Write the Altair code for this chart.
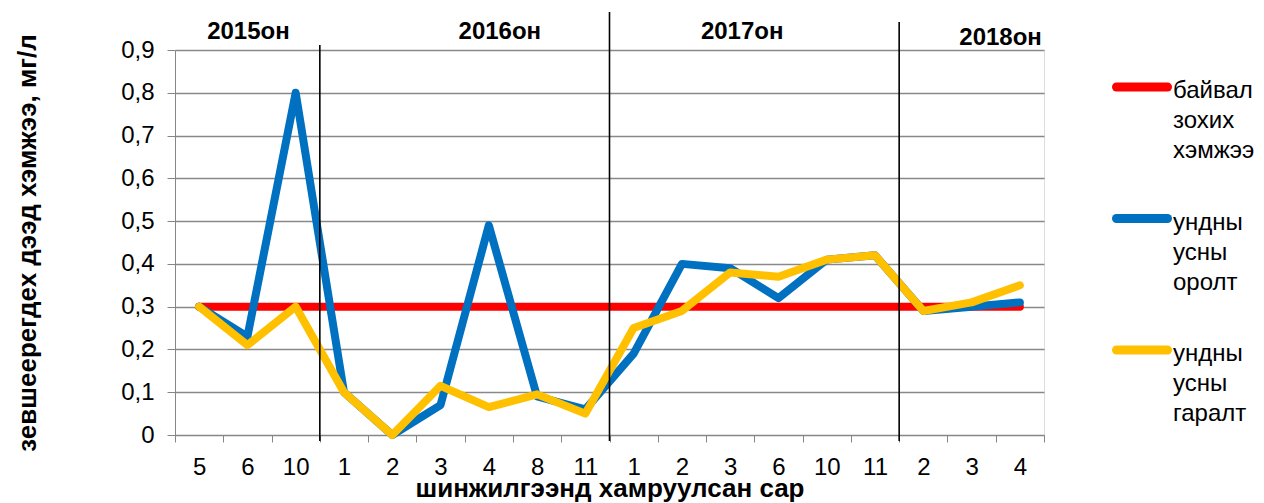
import altair as alt
import pandas as pd

# ---- data ----
years = ["2015"] * 3 + ["2016"] * 6 + ["2017"] * 6 + ["2018"] * 3
months = ["5", "6", "10", "1", "2", "3", "4", "8", "11",
          "1", "2", "3", "6", "10", "11", "2", "3", "4"]
norm = [0.3] * 18
inflow = [0.30, 0.23, 0.80, 0.10, 0.00, 0.07, 0.49, 0.09, 0.06,
          0.19, 0.40, 0.39, 0.32, 0.41, 0.42, 0.29, 0.30, 0.31]
outflow = [0.30, 0.21, 0.30, 0.10, 0.00, 0.115, 0.065, 0.095, 0.05,
           0.25, 0.29, 0.38, 0.37, 0.41, 0.42, 0.29, 0.31, 0.35]

series_names = ["байвал зохих хэмжээ", "ундны усны оролт", "ундны усны гаралт"]
series_colors = ["#FF0000", "#0070C0", "#FFC000"]

year_labels = ["2015он", "2016он", "2017он", "2018он"]
year_anchor = ["2015-6", "2016-4", "2017-3", "2018-3"]
year_dx = [1, 11, 12, 29]
year_dy = [-18, -18, -18, -12]

boundary_keys = ["2016-1", "2017-1", "2018-2"]
boundary_top = [-5, -38, -28]

y_title = "зевшеерегдех дээд хэмжээ, мг/л"
x_title = "шинжилгээнд хамруулсан сар"

# ---- tables ----
keys = [f"{y}-{m}" for y, m in zip(years, months)]
rows = []
for name, vals in zip(series_names, [norm, inflow, outflow]):
    for k, v in zip(keys, vals):
        rows.append({"key": k, "series": name, "value": v})
df = pd.DataFrame(rows)

FONT = "Liberation Sans"
W, H = 869, 385

xscale = alt.Scale(type="band", domain=keys, paddingInner=0, paddingOuter=0)
yscale = alt.Scale(domain=[0, 0.9], nice=False, zero=True)
cscale = alt.Scale(domain=series_names, range=series_colors)

x_axis = alt.Axis(
    title=x_title, labelExpr="split(datum.value, '-')[1]", labelAngle=0,
    tickBand="extent", grid=False, tickSize=7, tickColor="#868686",
    domainColor="#868686", labelFontSize=24, labelFont=FONT, labelColor="#000000",
    labelPadding=13, labelBaseline="top",
    titleFont=FONT, titleFontSize=26, titleFontWeight="bold", titleColor="#000000",
    titlePadding=-4,
)
y_axis = alt.Axis(
    title=y_title, values=[round(i * 0.1, 1) for i in range(10)],
    labelExpr="datum.value == 0 ? '0' : replace(format(datum.value, '.1f'), '.', ',')",
    grid=True, gridColor="#898989", gridWidth=1.3, tickSize=8, tickColor="#868686",
    domainColor="#868686", labelFontSize=24, labelFont=FONT, labelColor="#000000",
    labelPadding=13, titleFont=FONT, titleFontSize=26, titleFontWeight="bold",
    titleColor="#000000", titlePadding=80,
)

color = alt.Color("series:N", scale=cscale, legend=None)

base = alt.Chart(df)
layers = []
for name in series_names:
    layers.append(
        base.transform_filter(alt.datum.series == name)
        .mark_line(strokeWidth=8, strokeJoin="round", strokeCap="round")
        .encode(
            x=alt.X("key:N", scale=xscale, axis=x_axis, bandPosition=0.5, sort=keys),
            y=alt.Y("value:Q", scale=yscale, axis=y_axis),
            color=color,
        )
    )

bdf = pd.DataFrame({"key": boundary_keys})
for k, top in zip(boundary_keys, boundary_top):
    layers.append(
        alt.Chart(bdf).transform_filter(alt.datum.key == k)
        .mark_rule(color="#000000", strokeWidth=1.6)
        .encode(
            x=alt.X("key:N", scale=xscale, bandPosition=0, sort=keys),
            y=alt.value(top), y2=alt.value(H + 6),
        )
    )

ydf = pd.DataFrame({"label": year_labels, "key": year_anchor})
for lab, dx, dy in zip(year_labels, year_dx, year_dy):
    layers.append(
        alt.Chart(ydf).transform_filter(alt.datum.label == lab)
        .mark_text(font=FONT, fontSize=24, fontWeight="bold", color="#000000",
                   dx=dx, baseline="middle", align="center")
        .encode(
            x=alt.X("key:N", scale=xscale, bandPosition=0.5, sort=keys),
            y=alt.value(dy), text="label:N",
        )
    )

main = alt.layer(*layers)

# ---- legend (drawn as marks, entries placed by a point scale) ----
ldf = pd.DataFrame({"series": series_names})
lscale = alt.Scale(type="point", domain=series_names, range=[37, 300], padding=0)
leg_sym = alt.Chart(ldf).mark_rule(strokeWidth=9, strokeCap="round").encode(
    y=alt.Y("series:N", scale=lscale, axis=None),
    x=alt.value(941.5), x2=alt.value(992.5),
    color=color,
)
leg_txt = alt.Chart(ldf).transform_calculate(
    lines="split(datum.series, ' ')"
).mark_text(font=FONT, fontSize=24, color="#000000", align="left", baseline="top",
            lineHeight=30, dy=-8).encode(
    y=alt.Y("series:N", scale=lscale, axis=None),
    x=alt.value(998),
    text=alt.Text("lines:N"),
)
leg = alt.layer(leg_sym, leg_txt)

chart = alt.layer(main, leg).resolve_scale(y="independent").properties(
    width=W, height=H,
    autosize=alt.AutoSizeParams(type="none"),
    padding={"left": 167, "top": 42, "right": 212, "bottom": 68},
).configure_view(stroke=None).configure(background="#ffffff")

chart.save("out.html", embed_options={"renderer": "svg", "actions": False})
